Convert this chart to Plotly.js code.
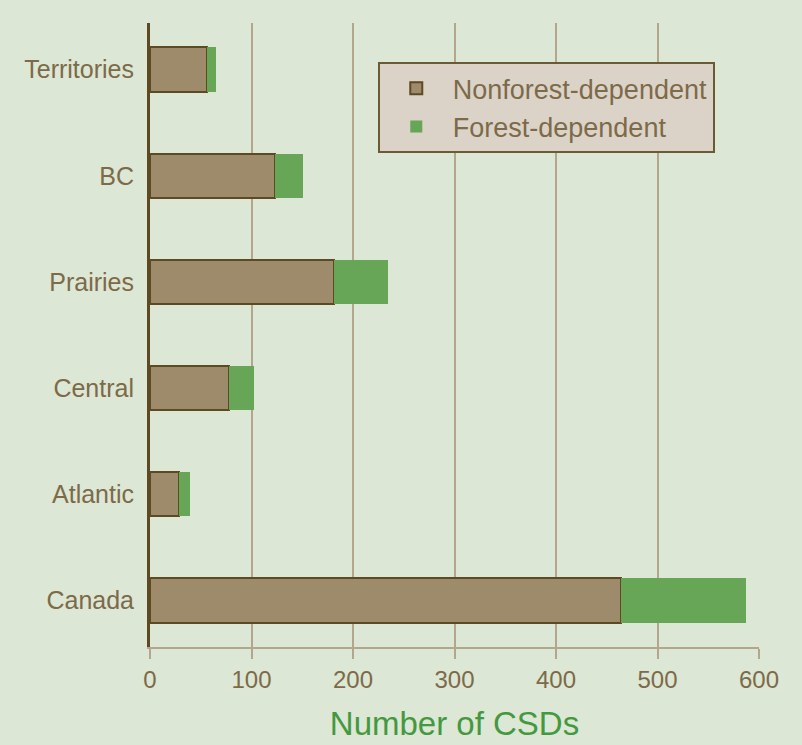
<!DOCTYPE html>
<html>
<head>
<meta charset="utf-8">
<script src="https://cdn.plot.ly/plotly-3.0.1.min.js"></script>
<style>
html,body{margin:0;padding:0;background:#dce7d5;}
#chart{width:802px;height:745px;}
</style>
</head>
<body>
<div id="chart"></div>
<script>
const regions = ["Canada", "Atlantic", "Central", "Prairies", "BC", "Territories"];
const nonforestDependent = [464, 29, 78, 181, 123, 56];
const forestDependent = [123, 10, 24, 53, 28, 9];
const xTicks = [0, 100, 200, 300, 400, 500, 600];

const textBrown = "#7d6a48";
const font = "Liberation Sans, Arial, sans-serif";

const traces = [
  {
    type: "bar", orientation: "h", name: "Nonforest-dependent",
    y: regions, x: nonforestDependent,
    marker: {color: "#9e8b6c", line: {color: "#5e4a22", width: 2}},
    hoverinfo: "x+y+name"
  },
  {
    type: "bar", orientation: "h", name: "Forest-dependent",
    y: regions, x: forestDependent,
    marker: {color: "#67a557", line: {color: "#67a557", width: 0}},
    hoverinfo: "x+y+name"
  }
];

const layout = {
  width: 802, height: 745,
  paper_bgcolor: "#dce7d5", plot_bgcolor: "#dce7d5",
  margin: {l: 150, r: 43, t: 23, b: 98},
  barmode: "stack", bargap: 0.58,
  font: {family: font, color: textBrown},
  showlegend: true,
  legend: {
    x: 0.374, y: 0.937, xanchor: "left", yanchor: "top",
    bgcolor: "#dbd3c8", bordercolor: "#6b5a33", borderwidth: 2,
    font: {family: font, size: 27, color: textBrown},
    traceorder: "normal", itemwidth: 63
  },
  xaxis: {
    range: [0, 600], tickvals: xTicks, ticktext: xTicks.map(String),
    showgrid: true, gridcolor: "#b2a78c", gridwidth: 2,
    showline: true, linecolor: "#b2a78c", linewidth: 2,
    ticks: "outside", ticklen: 10, tickwidth: 2, tickcolor: "#b2a78c",
    zeroline: false,
    tickfont: {family: font, size: 24, color: textBrown},
    title: {text: "Number of CSDs", font: {family: font, size: 33, color: "#44993f"}, standoff: 20},
    fixedrange: true
  },
  yaxis: {
    type: "category", categoryorder: "array", categoryarray: regions,
    range: [-0.44, 5.44],
    showgrid: false, zeroline: false,
    showline: true, linecolor: "#5e4a22", linewidth: 3,
    ticks: "", ticklabelstandoff: 8,
    tickfont: {family: font, size: 25, color: textBrown},
    fixedrange: true
  }
};

Plotly.newPlot("chart", traces, layout, {displayModeBar: false, staticPlot: true});
</script>
</body>
</html>
